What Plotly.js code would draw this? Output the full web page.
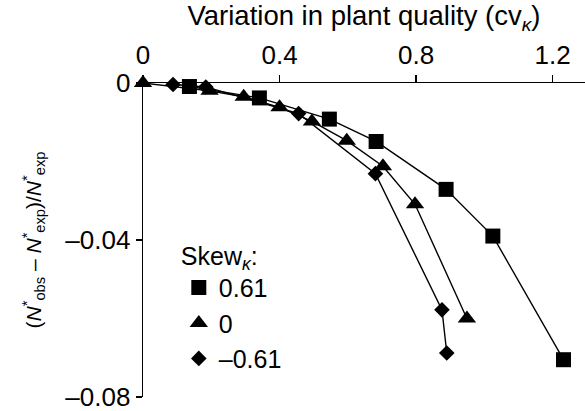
<!DOCTYPE html>
<html>
<head>
<meta charset="utf-8">
<script src="https://cdn.plot.ly/plotly-3.0.1.min.js"></script>
<style>html,body{margin:0;padding:0;background:#fff;}</style>
</head>
<body>
<div id="chart" style="width:585px;height:411px;"></div>
<script>
// Data
const seriesNames = ["0.61", "0", "–0.61"];
const cvSquare = [0.136, 0.341, 0.546, 0.683, 0.888, 1.025, 1.232];
const devSquare = [-0.0009, -0.0038, -0.0092, -0.0149, -0.0271, -0.0390, -0.0705];
const cvTriangle = [0, 0.195, 0.295, 0.400, 0.495, 0.597, 0.703, 0.797, 0.949];
const devTriangle = [0, -0.0020, -0.0035, -0.0062, -0.0098, -0.0147, -0.0212, -0.0309, -0.0600];
const cvDiamond = [0.088, 0.184, 0.456, 0.681, 0.876, 0.890];
const devDiamond = [-0.0004, -0.0010, -0.0078, -0.0231, -0.0578, -0.0688];
const xTickVals = [0, 0.4, 0.8, 1.2];
const xTickText = ["0", "0.4", "0.8", "1.2"];
const yTickVals = [0, -0.04, -0.08];
const yTickText = ["0", "–0.04", "–0.08"];

const FONT = "Liberation Sans, Arial, Helvetica, sans-serif";
const line = {color: "#000", width: 1.4};

const series = [
  {x: cvSquare, y: devSquare, name: seriesNames[0], symbol: "square", size: 15},
  {x: cvTriangle, y: devTriangle, name: seriesNames[1], symbol: "triangle-up", size: 16},
  {x: cvDiamond, y: devDiamond, name: seriesNames[2], symbol: "diamond", size: 12}
];

const traces = [];
series.forEach(s => {
  traces.push({x: s.x, y: s.y, mode: "lines", line: line, showlegend: false,
               hoverinfo: "skip", cliponaxis: false, legendgroup: s.name});
});
series.forEach(s => {
  traces.push({x: s.x, y: s.y, name: s.name, mode: "markers", legendgroup: s.name,
               marker: {symbol: s.symbol, size: s.size, color: "#000"}, cliponaxis: false});
});

const layout = {
  width: 585, height: 411,
  margin: {l: 143, r: 0, t: 83, b: 14, pad: 0},
  paper_bgcolor: "#fff", plot_bgcolor: "#fff",
  font: {family: FONT, size: 25, color: "#000"},
  showlegend: true,
  legend: {
    x: 0.081, xanchor: "left", y: 0.525, yanchor: "top",
    bgcolor: "rgba(0,0,0,0)", borderwidth: 0,
    font: {family: FONT, size: 25, color: "#000"},
    title: {text: "Skew<sub><i>κ</i></sub>:", font: {family: FONT, size: 25, color: "#000"}},
    tracegroupgap: 0, itemclick: false, itemwidth: 30
  },
  xaxis: {
    side: "top", range: [0, 1.295],
    tickvals: xTickVals, ticktext: xTickText,
    ticks: "outside", ticklen: 7, tickwidth: 1.2, tickcolor: "#000",
    showline: true, linecolor: "#000", linewidth: 1.4,
    showgrid: false, zeroline: false,
    tickfont: {family: FONT, size: 26, color: "#000"},
    title: {text: "Variation in plant quality (cv<sub><i>κ</i></sub>)", font: {family: FONT, size: 27.5, color: "#000"}, standoff: 10}
  },
  yaxis: {
    range: [-0.08, 0],
    tickvals: yTickVals, ticktext: yTickText,
    ticks: "outside", ticklen: 6, tickwidth: 1.2, tickcolor: "#000",
    ticklabeloverflow: "allow",
    showline: true, linecolor: "#000", linewidth: 1.4,
    showgrid: false, zeroline: false,
    tickfont: {family: FONT, size: 26, color: "#000"},
    title: {text: "(<i>N</i><sup>*</sup><sub>obs</sub> – <i>N</i><sup>*</sup><sub>exp</sub>)/<i>N</i><sup>*</sup><sub>exp</sub>", font: {family: FONT, size: 21, color: "#000"}, standoff: 18}
  }
};

Plotly.newPlot("chart", traces, layout, {staticPlot: true, displayModeBar: false});
</script>
</body>
</html>
